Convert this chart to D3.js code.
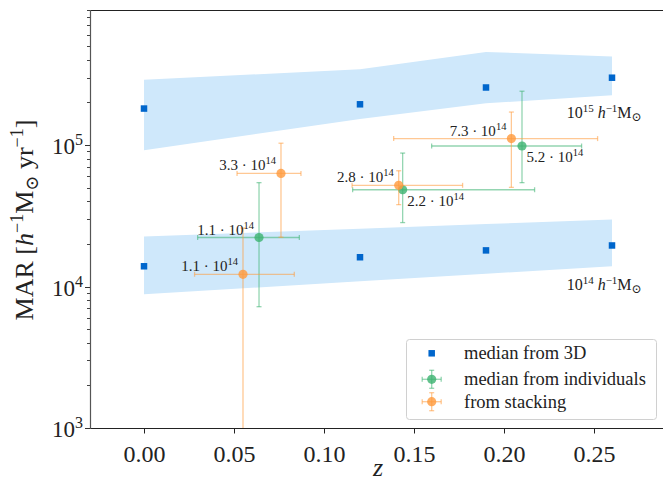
<!DOCTYPE html>
<html>
<head>
<meta charset="utf-8">
<script src="https://cdn.jsdelivr.net/npm/d3@7"></script>
<style>
  html, body { margin: 0; padding: 0; background: #fff; }
  svg { display: block; font-family: "Liberation Serif", "DejaVu Serif", serif; }
  text { font-family: "Liberation Serif", "DejaVu Serif", serif; }
</style>
</head>
<body>
<svg id="chart" width="663" height="485"></svg>
<script>
// ---------------- data ----------------
const z3D = [0, 0.12, 0.19, 0.26];
const mar3DHigh = [1.81e5, 1.94e5, 2.55e5, 2.99e5];   // 10^15 h^-1 Msun
const mar3DLow = [1.39e4, 1.61e4, 1.80e4, 1.95e4];    // 10^14 h^-1 Msun
const bandHighTop = [2.89e5, 3.43e5, 4.55e5, 4.22e5];
const bandHighBot = [9.2e4, 1.53e5, 1.97e5, 2.25e5];
const bandLowTop = [2.26e4, 2.56e4, 2.76e4, 2.97e4];
const bandLowBot = [8.8e3, 1.09e4, 1.23e4, 1.39e4];

const indivZ = [0.0639, 0.1437, 0.2100];
const indivZLo = [0.0298, 0.1159, 0.1598];
const indivZHi = [0.0863, 0.2170, 0.2431];
const indivMar = [2.22e4, 4.83e4, 9.84e4];
const indivMarLo = [7.2e3, 2.83e4, 5.42e4];
const indivMarHi = [5.42e4, 8.77e4, 2.40e5];
const indivMass = ["1.1", "2.2", "5.2"];
const indivSide = ["right", "left", "left"];

const stackZ = [0.0550, 0.0761, 0.1415, 0.2041];
const stackZLo = [0.0281, 0.0517, 0.1156, 0.1387];
const stackZHi = [0.0835, 0.0872, 0.1770, 0.2520];
const stackMar = [1.22e4, 6.30e4, 5.19e4, 1.11e5];
const stackMarLo = [1e2, 2.23e4, 3.79e4, 5.02e4];
const stackMarHi = [2.59e4, 1.03e5, 6.58e4, 1.71e5];
const stackMass = ["1.1", "3.3", "2.8", "7.3"];
const stackSide = ["right", "right", "right", "right"];

const bandLabelExp = ["15", "14"];
const bandLabelZ = [0.2348, 0.2348];
const bandLabelMar = [1.55e5, 9.5e3];

const xTicks = [0, 0.05, 0.10, 0.15, 0.20, 0.25];
const yMajorExp = [3, 4, 5];
const legendLabels = ["median from 3D", "median from individuals", "from stacking"];

// ---------------- styles ----------------
const FONT = "Liberation Serif";
const BLUE = "#0066cc";
const BAND = "#cfe8fb";
const GREEN = "#3cb371";
const ORANGE = "#ff9a3c";

// ---------------- layout ----------------
const svg = d3.select("#chart");
const L = 90, R = 666, T = 10, B = 428;
const x = d3.scaleLinear().domain([-0.03, 0.29]).range([L, R]);
const y = d3.scaleLog().domain([1e3, 9e5]).range([B, T]);

svg.append("defs").append("clipPath").attr("id", "clip")
  .append("rect").attr("x", L).attr("y", T).attr("width", R - L).attr("height", B - T);

const plot = svg.append("g").attr("clip-path", "url(#clip)");

// bands
const area = d3.area().x(d => x(d.z)).y0(d => y(d.lo)).y1(d => y(d.hi));
[[bandHighBot, bandHighTop], [bandLowBot, bandLowTop]].forEach(([lo, hi]) => {
  const pts = z3D.map((z, i) => ({ z, lo: lo[i], hi: hi[i] }));
  plot.append("path").datum(pts).attr("d", area).attr("fill", BAND);
});

// 3D medians
const sq = 6.5;
[mar3DHigh, mar3DLow].forEach(arr => {
  plot.selectAll(null).data(z3D.map((z, i) => ({ z, v: arr[i] }))).enter()
    .append("rect")
    .attr("x", d => x(d.z) - sq / 2).attr("y", d => y(d.v) - sq / 2)
    .attr("width", sq).attr("height", sq).attr("fill", BLUE);
});

// error bars
function errorbars(zs, zlo, zhi, m, mlo, mhi, color) {
  const g = plot.append("g");
  const data = zs.map((z, i) => ({ z, zl: zlo[i], zh: zhi[i], v: m[i], vl: mlo[i], vh: mhi[i] }));
  const cap = 2.5;
  data.forEach(d => {
    const cx = x(d.z), cy = y(d.v);
    const gg = g.append("g").attr("stroke", color).attr("stroke-opacity", 0.55).attr("stroke-width", 1.3).attr("fill", "none");
    gg.append("line").attr("x1", x(d.zl)).attr("x2", x(d.zh)).attr("y1", cy).attr("y2", cy);
    gg.append("line").attr("x1", cx).attr("x2", cx).attr("y1", y(d.vl)).attr("y2", y(d.vh));
    gg.append("line").attr("x1", x(d.zl)).attr("x2", x(d.zl)).attr("y1", cy - cap).attr("y2", cy + cap);
    gg.append("line").attr("x1", x(d.zh)).attr("x2", x(d.zh)).attr("y1", cy - cap).attr("y2", cy + cap);
    gg.append("line").attr("x1", cx - cap).attr("x2", cx + cap).attr("y1", y(d.vl)).attr("y2", y(d.vl));
    gg.append("line").attr("x1", cx - cap).attr("x2", cx + cap).attr("y1", y(d.vh)).attr("y2", y(d.vh));
  });
  g.selectAll("circle").data(data).enter().append("circle")
    .attr("cx", d => x(d.z)).attr("cy", d => y(d.v)).attr("r", 4.6)
    .attr("fill", color).attr("fill-opacity", 0.8);
}
errorbars(indivZ, indivZLo, indivZHi, indivMar, indivMarLo, indivMarHi, GREEN);
errorbars(stackZ, stackZLo, stackZHi, stackMar, stackMarLo, stackMarHi, ORANGE);

// point labels
function massLabel(xp, yp, mant, side) {
  const t = svg.append("text").attr("font-family", FONT).attr("font-size", 15).attr("fill", "#222")
    .attr("x", side === "right" ? xp - 5 : xp + 4.5)
    .attr("y", side === "right" ? yp - 3 : yp + 16)
    .attr("text-anchor", side === "right" ? "end" : "start");
  t.append("tspan").text(mant + " \u00B7 10");
  t.append("tspan").attr("font-size", 10.5).attr("dy", -6).text("14");
}
indivZ.forEach((z, i) => massLabel(x(z), y(indivMar[i]), indivMass[i], indivSide[i]));
stackZ.forEach((z, i) => massLabel(x(z), y(stackMar[i]), stackMass[i], stackSide[i]));

// band labels
bandLabelExp.forEach((e, i) => {
  const t = svg.append("text").attr("font-family", FONT).attr("font-size", 16).attr("fill", "#222")
    .attr("x", x(bandLabelZ[i])).attr("y", y(bandLabelMar[i]));
  t.append("tspan").text("10");
  t.append("tspan").attr("font-size", 11).attr("dy", -6).text(e);
  t.append("tspan").attr("dy", 6).text(" ");
  t.append("tspan").attr("font-style", "italic").text("h");
  t.append("tspan").attr("font-size", 11).attr("dy", -6).text("\u22121");
  t.append("tspan").attr("dy", 6).text("M");
  t.append("tspan").attr("font-size", 12).attr("dy", 3).text("\u2299");
});

// axes
const spine = "#222";
svg.append("line").attr("x1", L).attr("x2", R).attr("y1", T + 0.5).attr("y2", T + 0.5).attr("stroke", spine).attr("stroke-width", 1);
svg.append("line").attr("x1", L).attr("x2", R).attr("y1", B + 0.5).attr("y2", B + 0.5).attr("stroke", spine).attr("stroke-width", 1);
svg.append("line").attr("x1", L + 0.5).attr("x2", L + 0.5).attr("y1", T).attr("y2", B + 1).attr("stroke", "#555").attr("stroke-width", 1.2);

const xAxis = d3.axisBottom(x).tickValues(xTicks).tickFormat(d3.format(".2f")).tickSize(5).tickSizeOuter(0);
const gx = svg.append("g").attr("transform", `translate(0,${B + 0.5})`).call(xAxis)
  .attr("font-family", FONT);
gx.select(".domain").remove();
gx.selectAll(".tick line").attr("stroke", spine);
gx.selectAll(".tick text").attr("font-size", 24).attr("fill", "#222").attr("dy", "1.05em")
  .attr("font-family", FONT);

// y ticks (minor + major)
const minorVals = [];
for (let e = 3; e <= 5; e++) for (let k = 2; k <= 9; k++) {
  const v = k * Math.pow(10, e);
  if (v <= 9e5) minorVals.push(v);
}
svg.append("g").selectAll("line").data(minorVals).enter().append("line")
  .attr("x1", L - 3).attr("x2", L).attr("y1", d => Math.round(y(d)) + 0.5).attr("y2", d => Math.round(y(d)) + 0.5)
  .attr("stroke", "#444").attr("stroke-width", 1);
const gy = svg.append("g");
yMajorExp.forEach(e => {
  const yy = Math.round(y(Math.pow(10, e))) + 0.5;
  gy.append("line").attr("x1", L - 5).attr("x2", L).attr("y1", yy).attr("y2", yy).attr("stroke", "#333");
  const t = gy.append("text").attr("x", L - 7).attr("y", yy + 8).attr("text-anchor", "end")
    .attr("font-family", FONT).attr("font-size", 23).attr("fill", "#222");
  t.append("tspan").text("10");
  t.append("tspan").attr("font-size", 16).attr("dy", -9).text(String(e));
});

// axis labels
svg.append("text").attr("x", 378).attr("y", 476).attr("text-anchor", "middle")
  .attr("font-family", FONT).attr("font-size", 26).attr("font-style", "italic").attr("fill", "#222").text("z");

const yl = svg.append("text").attr("transform", "translate(33,220) rotate(-90)")
  .attr("text-anchor", "middle").attr("font-family", FONT).attr("font-size", 26).attr("fill", "#222");
yl.append("tspan").text("MAR [");
yl.append("tspan").attr("font-style", "italic").text("h");
yl.append("tspan").attr("font-size", 18).attr("dy", -10).text("\u22121");
yl.append("tspan").attr("dy", 10).text("M");
yl.append("tspan").attr("font-size", 18).attr("dy", 5).text("\u2299");
yl.append("tspan").attr("dy", -5).text(" yr");
yl.append("tspan").attr("font-size", 18).attr("dy", -10).text("\u22121");
yl.append("tspan").attr("dy", 10).text("]");

// legend
const lg = svg.append("g");
lg.append("rect").attr("x", 406.5).attr("y", 339.5).attr("width", 250).attr("height", 80)
  .attr("rx", 3).attr("fill", "#fff").attr("fill-opacity", 0.8).attr("stroke", "#d0d0d0");
const rowsY = [353.3, 379.3, 401.7];
const mx = 431.7;
lg.append("rect").attr("x", mx - 3.25).attr("y", rowsY[0] - 3.25).attr("width", 6.5).attr("height", 6.5).attr("fill", BLUE);
[[GREEN, rowsY[1]], [ORANGE, rowsY[2]]].forEach(([c, yy]) => {
  const g = lg.append("g").attr("stroke", c).attr("stroke-opacity", 0.55).attr("stroke-width", 1.3);
  g.append("line").attr("x1", mx - 9.5).attr("x2", mx + 9.5).attr("y1", yy).attr("y2", yy);
  g.append("line").attr("x1", mx).attr("x2", mx).attr("y1", yy - 9).attr("y2", yy + 9);
  g.append("line").attr("x1", mx - 9.5).attr("x2", mx - 9.5).attr("y1", yy - 2.5).attr("y2", yy + 2.5);
  g.append("line").attr("x1", mx + 9.5).attr("x2", mx + 9.5).attr("y1", yy - 2.5).attr("y2", yy + 2.5);
  g.append("line").attr("x1", mx - 2.5).attr("x2", mx + 2.5).attr("y1", yy - 9).attr("y2", yy - 9);
  g.append("line").attr("x1", mx - 2.5).attr("x2", mx + 2.5).attr("y1", yy + 9).attr("y2", yy + 9);
  lg.append("circle").attr("cx", mx).attr("cy", yy).attr("r", 4.6).attr("fill", c).attr("fill-opacity", 0.8);
});
legendLabels.forEach((s, i) => {
  lg.append("text").attr("x", 464).attr("y", rowsY[i] + 6).attr("font-family", FONT)
    .attr("font-size", 18.5).attr("fill", "#222").text(s);
});
</script>
</body>
</html>
